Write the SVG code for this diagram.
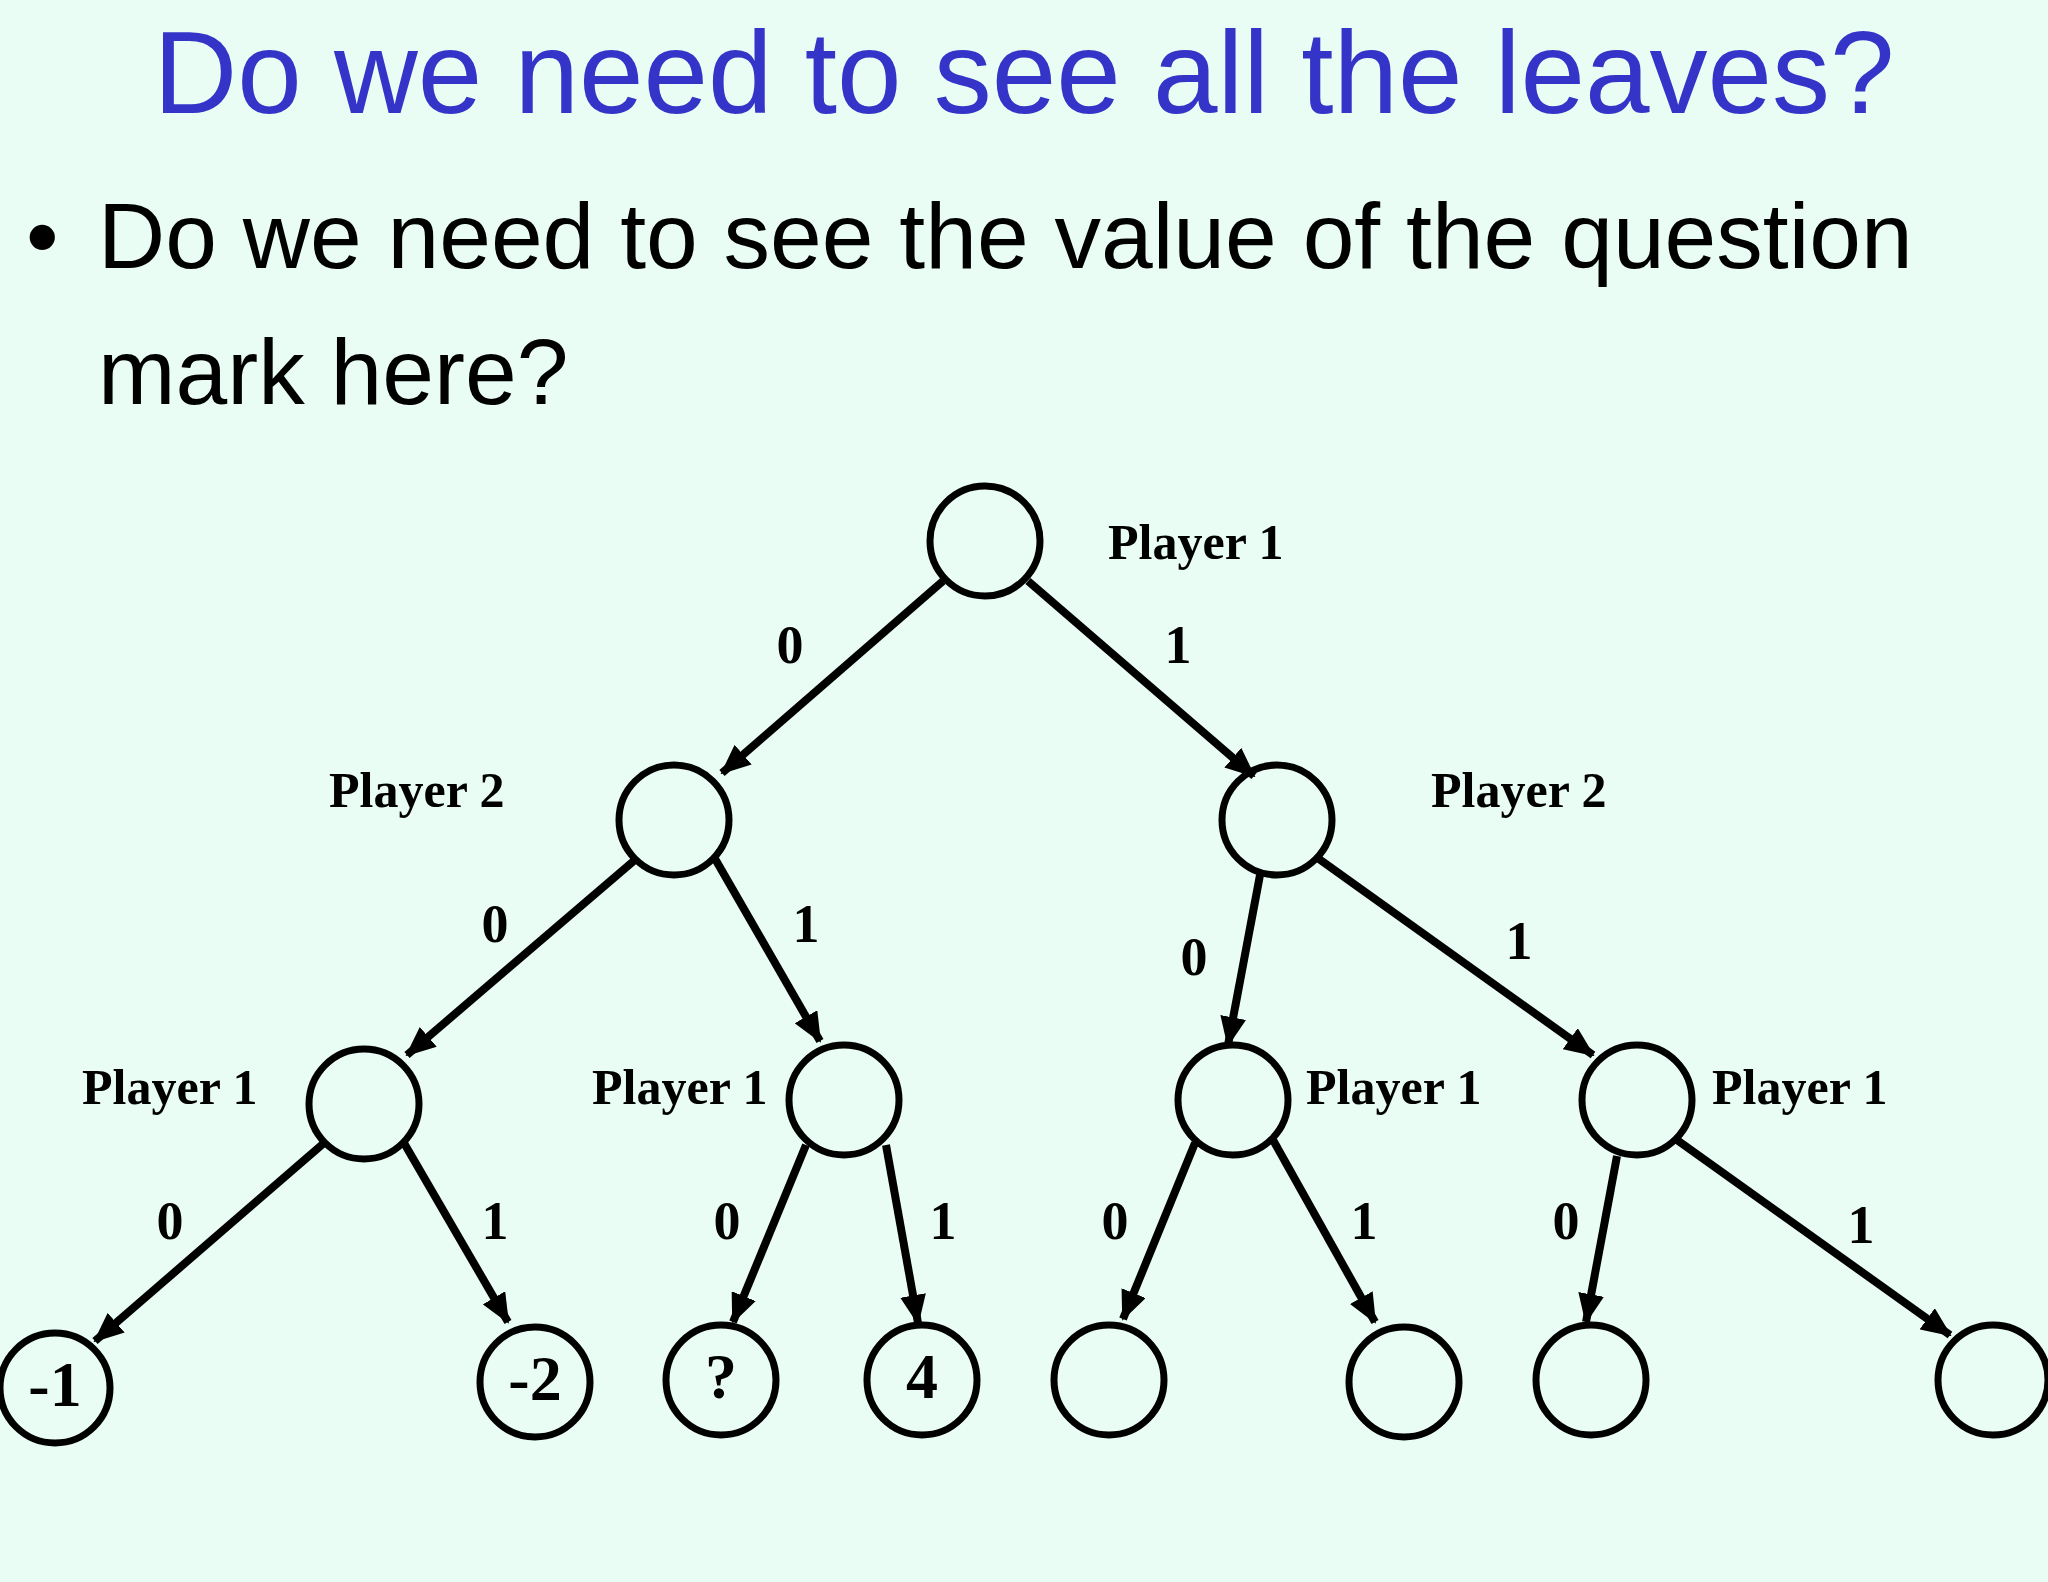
<svg xmlns="http://www.w3.org/2000/svg" width="2048" height="1582" viewBox="0 0 2048 1582">
<style>
.n{fill:none;stroke:#000;stroke-width:7}
.e{stroke:#000;stroke-width:8;marker-end:url(#a)}
.l{font-family:"Liberation Serif",serif;font-weight:bold;font-size:50px;fill:#000}
.d{font-size:54px}
.c{text-anchor:middle;dominant-baseline:central}
.v{font-family:"Liberation Serif",serif;font-weight:bold;font-size:64px;text-anchor:middle;dominant-baseline:central}
</style>
<defs><marker id="a" markerUnits="userSpaceOnUse" markerWidth="30" markerHeight="26" refX="28" refY="13" orient="auto"><path d="M0,0 L30,13 L0,26 Z" fill="#000"/></marker></defs>
<rect width="2048" height="1582" fill="#eafdf4"/>
<text x="1024" y="113" text-anchor="middle" font-family="Liberation Sans,sans-serif" font-size="116" fill="#3434c8">Do we need to see all the leaves?</text>
<text x="26" y="268" font-family="Liberation Sans,sans-serif" font-size="93">•</text>
<text x="98" y="268" font-family="Liberation Sans,sans-serif" font-size="93">Do we need to see the value of the question</text>
<text x="98" y="404" font-family="Liberation Sans,sans-serif" font-size="93">mark here?</text>
<g id="connectors">
<line class="e" x1="943" y1="581" x2="722" y2="773"/>
<line class="e" x1="1028" y1="581" x2="1254" y2="776"/>
<line class="e" x1="636" y1="859" x2="407" y2="1055"/>
<line class="e" x1="714" y1="857" x2="820" y2="1041"/>
<line class="e" x1="1260" y1="875" x2="1228" y2="1045"/>
<line class="e" x1="1319" y1="859" x2="1593" y2="1055"/>
<line class="e" x1="324" y1="1143" x2="95" y2="1341"/>
<line class="e" x1="404" y1="1143" x2="508" y2="1322"/>
<line class="e" x1="806" y1="1145" x2="733" y2="1322"/>
<line class="e" x1="886" y1="1145" x2="918" y2="1323"/>
<line class="e" x1="1195" y1="1143" x2="1123" y2="1319"/>
<line class="e" x1="1273" y1="1140" x2="1375" y2="1322"/>
<line class="e" x1="1617" y1="1156" x2="1586" y2="1322"/>
<line class="e" x1="1677" y1="1140" x2="1950" y2="1335"/>
<g class="l d c">
<text x="790" y="645">0</text><text x="1178" y="645">1</text>
<text x="495" y="924">0</text><text x="806" y="924">1</text>
<text x="1194" y="957">0</text><text x="1519" y="941">1</text>
<text x="170" y="1221">0</text><text x="495" y="1221">1</text>
<text x="727" y="1221">0</text><text x="943" y="1221">1</text>
<text x="1115" y="1221">0</text><text x="1364" y="1221">1</text>
<text x="1566" y="1221">0</text><text x="1861" y="1225">1</text>
</g>
</g>
<g id="root"><circle class="n" cx="985" cy="541" r="55"/><text class="l" x="1108" y="559">Player 1</text></g>
<g id="p2l"><circle class="n" cx="674" cy="820" r="55"/><text class="l" x="329" y="807">Player 2</text></g>
<g id="p2r"><circle class="n" cx="1277" cy="820" r="55"/><text class="l" x="1431" y="807">Player 2</text></g>
<g id="ll"><circle class="n" cx="364" cy="1104" r="55"/><text class="l" x="82" y="1104">Player 1</text></g>
<g id="lr"><circle class="n" cx="844" cy="1100" r="55"/><text class="l" x="592" y="1104">Player 1</text></g>
<g id="rl"><circle class="n" cx="1233" cy="1100" r="55"/><text class="l" x="1306" y="1104">Player 1</text></g>
<g id="rr"><circle class="n" cx="1637" cy="1100" r="55"/><text class="l" x="1712" y="1104">Player 1</text></g>
<g id="leaf1"><circle class="n" cx="55" cy="1388" r="55"/><text class="v" x="55" y="1384">-1</text></g>
<g id="leaf2"><circle class="n" cx="535" cy="1382" r="55"/><text class="v" x="535" y="1378">-2</text></g>
<g id="leaf3"><circle class="n" cx="721" cy="1380" r="55"/><text class="v" x="721" y="1376">?</text></g>
<g id="leaf4"><circle class="n" cx="922" cy="1380" r="55"/><text class="v" x="922" y="1376">4</text></g>
<g id="leaf5"><circle class="n" cx="1109" cy="1380" r="55"/></g>
<g id="leaf6"><circle class="n" cx="1404" cy="1382" r="55"/></g>
<g id="leaf7"><circle class="n" cx="1591" cy="1380" r="55"/></g>
<g id="leaf8"><circle class="n" cx="1993" cy="1380" r="55"/></g>
</svg>
